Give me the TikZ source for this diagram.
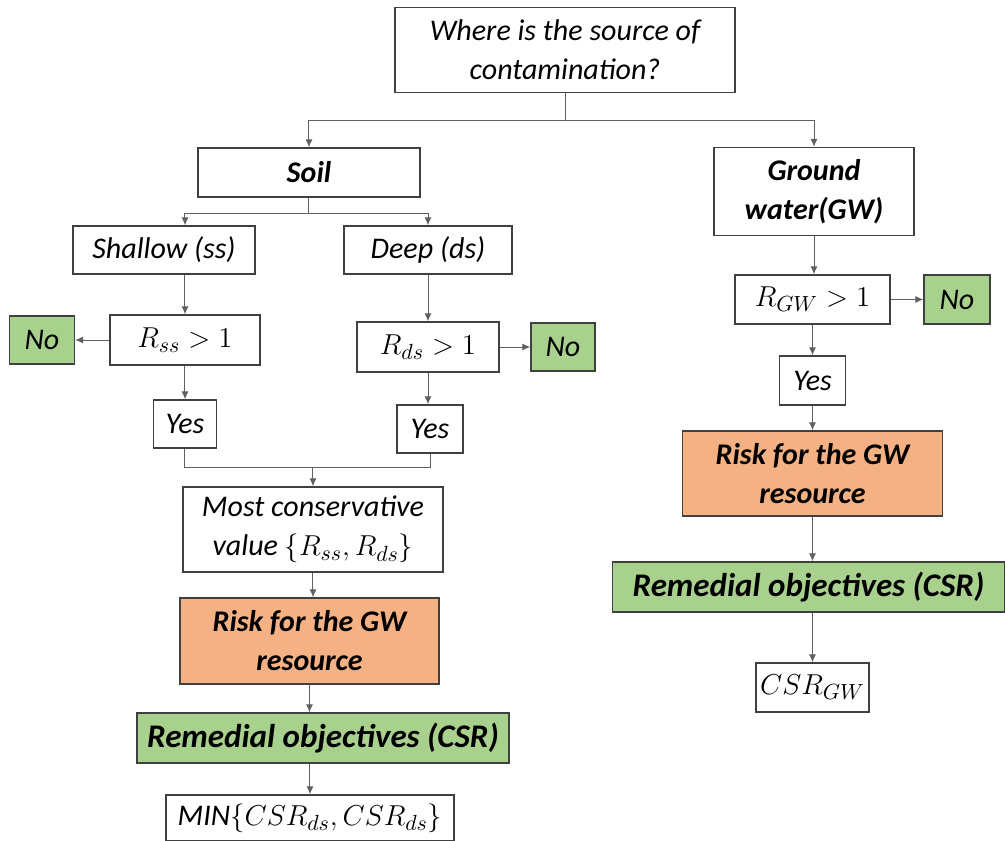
\documentclass[tikz,border=0pt]{standalone}
\usepackage{fontspec}
\setmainfont{Carlito}
\usepackage{xcolor}
\usepackage{tikz}
\usetikzlibrary{positioning,arrows.meta}

\definecolor{nogreen}{HTML}{A9D18E}
\definecolor{riskorange}{HTML}{F4B183}
\definecolor{boxline}{HTML}{404040}
\definecolor{wire}{HTML}{606060}

\begin{document}
\begin{tikzpicture}[
        font=\fontsize{15}{19.5}\selectfont\itshape,
        >={Latex[length=4pt,width=3.5pt]},
        box/.style={draw=boxline, line width=0.7pt, fill=white, align=center, inner sep=2pt},
        greenbox/.style={box, fill=nogreen},
        orangebox/.style={box, fill=riskorange, font=\fontsize{15}{19.5}\selectfont\itshape\bfseries},
        wire/.style={draw=wire, line width=0.5pt}
    ]
        \useasboundingbox (-282.5pt,25pt) rectangle (220pt,-395pt);

        \node[box, minimum width=170pt, minimum height=42.5pt] (Q) {Where is the source of\\contamination?};

        % soil branch
        \node[box, below of=Q, node distance=61.25pt, xshift=-128pt, minimum width=111pt, minimum height=24.5pt] (Soil) {\bfseries Soil};
        \node[box, below of=Soil, node distance=38.75pt, xshift=-72.5pt, minimum width=91pt, minimum height=24pt] (Shallow) {Shallow (ss)};
        \node[box, right of=Shallow, node distance=132pt, minimum width=84pt, minimum height=24pt] (Deep) {Deep (ds)};
        \node[box, below of=Shallow, node distance=45pt, xshift=10.5pt, minimum width=75pt, minimum height=25pt] (Rss) {$R_{ss} > 1$};
        \node[greenbox, left of=Rss, node distance=71.5pt, minimum width=32.5pt, minimum height=24pt] (NoL) {No};
        \node[box, below of=Rss, node distance=42pt, minimum width=31.5pt, minimum height=24pt] (YesL) {Yes};
        \node[box, below of=Deep, node distance=48.5pt, minimum width=71pt, minimum height=25pt] (Rds) {$R_{ds} > 1$};
        \node[greenbox, right of=Rds, node distance=67.5pt, minimum width=32pt, minimum height=24pt] (NoR) {No};
        \node[box, below of=Rds, node distance=41pt, xshift=1pt, minimum width=33pt, minimum height=24pt] (YesR) {Yes};
        \node[box, below of=YesL, node distance=52.75pt, xshift=64pt, minimum width=130pt, minimum height=42.5pt] (Most) {Most conservative\\value $\{R_{ss}, R_{ds}\}$};
        \node[orangebox, below of=Most, node distance=55.75pt, xshift=-1.75pt, minimum width=129.5pt, minimum height=43pt] (RiskL) {Risk for the GW\\resource};
        \node[greenbox, below of=RiskL, node distance=48.5pt, xshift=6.75pt, minimum width=186pt, minimum height=25pt] (RemL) {\fontsize{16.5}{19.5}\selectfont\bfseries Remedial objectives (CSR)};
        \node[box, below of=RemL, node distance=40pt, xshift=-6.5pt, minimum width=144pt, minimum height=23pt] (MIN) {MIN$\{CSR_{ds}, CSR_{ds}\}$};

        % ground water branch
        \node[box, below of=Q, node distance=70.75pt, xshift=124.5pt, minimum width=100pt, minimum height=44pt] (GW) {\bfseries Ground\\\bfseries water(GW)};
        \node[box, below of=GW, node distance=54pt, xshift=-0.75pt, minimum width=77.5pt, minimum height=24.5pt] (Rgw) {$R_{GW} > 1$};
        \node[greenbox, right of=Rgw, node distance=72.25pt, minimum width=33pt, minimum height=24.5pt] (NoG) {No};
        \node[box, below of=Rgw, node distance=40.5pt, minimum width=33pt, minimum height=24.5pt] (YesG) {Yes};
        \node[orangebox, below of=YesG, node distance=46.5pt, minimum width=130pt, minimum height=42.5pt] (RiskR) {Risk for the GW\\resource};
        \node[greenbox, below of=RiskR, node distance=56.75pt, xshift=-2pt, minimum width=196pt, minimum height=25pt] (RemR) {\fontsize{16.5}{19.5}\selectfont\bfseries Remedial objectives (CSR)};
        \node[box, below of=RemR, node distance=50.25pt, xshift=2pt, minimum width=53pt, minimum height=24.5pt] (CSRgw) {$CSR_{GW}$};

        \coordinate (merge) at ([yshift=9.5pt]Most.north);

        \draw[wire, ->] (Q.south) -- ++(0,-13.5pt) -| (Soil.north);
        \draw[wire, ->] (Q.south) -- ++(0,-13.5pt) -| (GW.north);
        \draw[wire, ->] (Soil.south) -- ++(0,-8pt) -| (Shallow.north -| Rss.north);
        \draw[wire, ->] (Soil.south) -- ++(0,-8pt) -| (Deep.north);
        \draw[wire, ->] (Shallow.south -| Rss.north) -- (Rss.north);
        \draw[wire, ->] (Rss.west) -- (NoL.east);
        \draw[wire, ->] (Rss.south) -- (YesL.north);
        \draw[wire, ->] (Deep.south) -- (Rds.north);
        \draw[wire, ->] (Rds.east) -- (NoR.west);
        \draw[wire, ->] (Rds.south) -- (YesR.north -| Rds.south);
        \draw[wire] (YesL.south) |- (merge) -| (YesR.south);
        \draw[wire, ->] (merge) -- (Most.north);
        \draw[wire, ->] (Most.south) -- (Most.south |- RiskL.north);
        \draw[wire, ->] (RiskL.south) -- (RiskL.south |- RemL.north);
        \draw[wire, ->] (RemL.south -| MIN.north) -- (MIN.north);

        \draw[wire, ->] (GW.south) -- (GW.south |- Rgw.north);
        \draw[wire, ->] (Rgw.east) -- (NoG.west);
        \draw[wire, ->] (Rgw.south) -- (YesG.north);
        \draw[wire, ->] (YesG.south) -- (RiskR.north);
        \draw[wire, ->] (RiskR.south) -- (RiskR.south |- RemR.north);
        \draw[wire, ->] (RemR.south -| CSRgw.north) -- (CSRgw.north);
    \end{tikzpicture}
\end{document}
